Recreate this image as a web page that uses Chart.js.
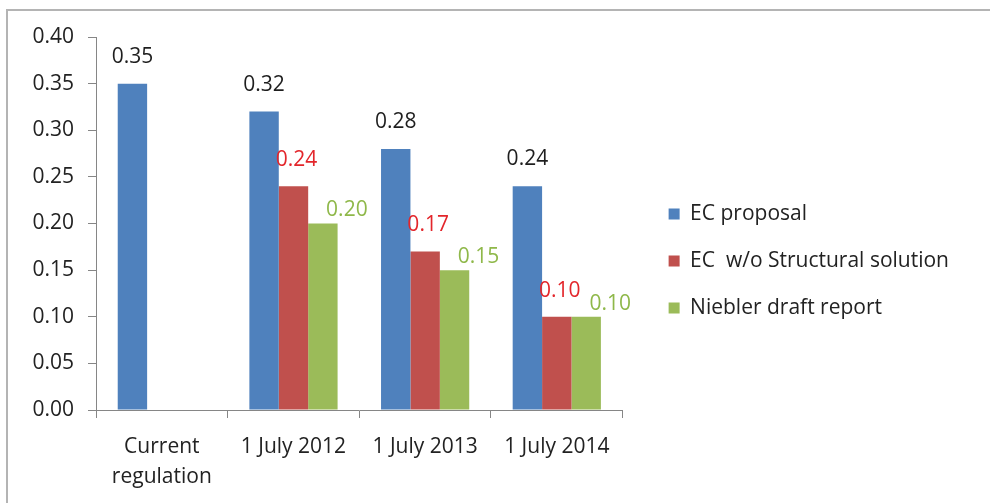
<!DOCTYPE html>
<html>
<head>
<meta charset="utf-8">
<script src="https://cdn.jsdelivr.net/npm/chart.js@4/dist/chart.umd.min.js"></script>
<style>
  html, body { margin: 0; padding: 0; background: #fff; }
  #frame { position: absolute; left: 6px; top: 9px; width: 1100px; height: 600px;
           border-left: 2px solid #b4b4b4; border-top: 2px solid #b4b4b4; }
  #wrap { position: absolute; left: 0; top: 0; width: 990px; height: 503px; }
</style>
</head>
<body>
<div id="frame"></div>
<div id="wrap"><canvas id="chart"></canvas></div>
<script>
// data
const categories = [["Current", "regulation"], "1 July 2012", "1 July 2013", "1 July 2014"];
const ecProposal = [0.35, 0.32, 0.28, 0.24];
const ecNoStructural = [null, 0.24, 0.17, 0.10];
const nieblerDraft = [null, 0.20, 0.15, 0.10];
const seriesNames = ["EC proposal", "EC  w/o Structural solution", "Niebler draft report"];

const FONT = "'Open Sans', sans-serif";
const TEXT = "#222222";
const AXIS = "#868686";
const SIZE = 21;

// label colour and offset per series (Excel placed them a bit off the bar)
const labelStyle = [
  { color: "#1e1e1e", dx: 0, dy: -27 },
  { color: "#e3262b", dx: 3, dy: -26 },
  { color: "#8fb84a", dx: 24, dy: -13 }
];

const barLabels = {
  id: "barLabels",
  afterDatasetsDraw(chart) {
    const ctx = chart.ctx;
    ctx.save();
    ctx.font = SIZE + "px " + FONT;
    ctx.textAlign = "center";
    ctx.textBaseline = "middle";
    chart.data.datasets.forEach((ds, i) => {
      const meta = chart.getDatasetMeta(i);
      const st = labelStyle[i];
      meta.data.forEach((bar, j) => {
        const v = ds.data[j];
        if (v == null) return;
        ctx.fillStyle = st.color;
        ctx.fillText(v.toFixed(2), bar.x + st.dx, bar.y + st.dy);
      });
    });
    ctx.restore();
  }
};

// push the legend a little away from the plot
const legendShift = {
  id: "legendShift",
  afterLayout(chart) {
    const lg = chart.legend;
    lg.left += 20; lg.right += 20;
    lg.top -= 9; lg.bottom -= 9;
  }
};

new Chart(document.getElementById("chart"), {
  type: "bar",
  data: {
    labels: categories,
    datasets: [
      { label: seriesNames[0], data: ecProposal, backgroundColor: "#4f81bd" },
      { label: seriesNames[1], data: ecNoStructural, backgroundColor: "#c0504d" },
      { label: seriesNames[2], data: nieblerDraft, backgroundColor: "#9bbb59" }
    ]
  },
  options: {
    responsive: true,
    maintainAspectRatio: false,
    animation: false,
    categoryPercentage: 0.67,
    barPercentage: 1.0,
    layout: { padding: { top: 37, right: 51, bottom: 0, left: 0 } },
    scales: {
      x: {
        afterFit: (s) => { s.height = 93; },
        grid: { display: true, drawOnChartArea: false, color: AXIS, tickLength: 8, offset: true },
        border: { color: AXIS, width: 1 },
        ticks: { color: TEXT, font: { family: FONT, size: SIZE, lineHeight: 1.43 }, padding: 14, maxRotation: 0 }
      },
      y: {
        min: 0, max: 0.4,
        afterFit: (s) => { s.width = 96; },
        grid: { display: true, drawOnChartArea: false, color: AXIS, tickLength: 8 },
        border: { color: AXIS, width: 1 },
        ticks: { stepSize: 0.05, color: TEXT, font: { family: FONT, size: SIZE }, padding: 14,
                 callback: (v) => v.toFixed(2) }
      }
    },
    plugins: {
      legend: {
        position: "right",
        maxWidth: 500,
        labels: { color: TEXT, font: { family: FONT, size: SIZE }, boxWidth: 11, boxHeight: 11, padding: 26 }
      },
      tooltip: { enabled: false }
    }
  },
  plugins: [barLabels, legendShift]
});
</script>
</body>
</html>
